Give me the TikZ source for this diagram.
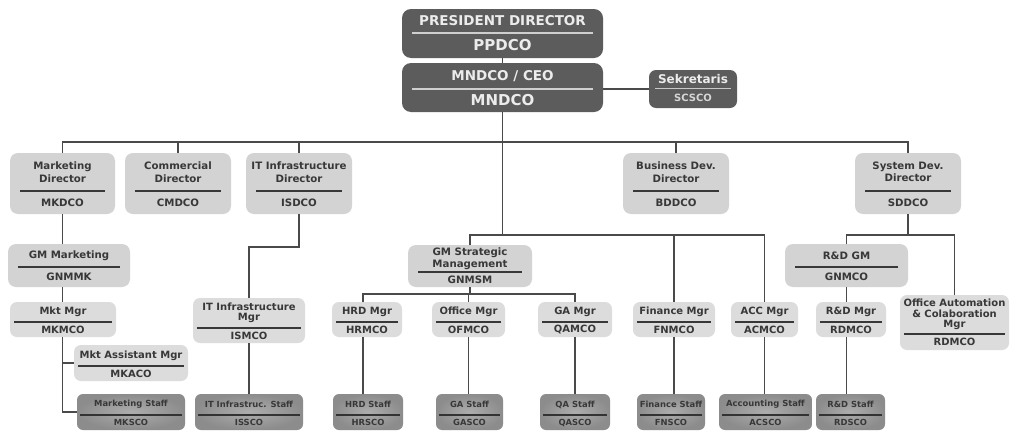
\documentclass[tikz,border=0pt]{standalone}
\usepackage{fontspec}
\setmainfont{DejaVu Sans}
\definecolor{topfill}{HTML}{5C5C5C}
\definecolor{toptext}{HTML}{ECECEC}
\definecolor{dirfill}{HTML}{D3D3D3}
\definecolor{mgrfill}{HTML}{DCDCDC}
\definecolor{staffin}{HTML}{ADADAD}
\definecolor{staffout}{HTML}{8C8C8C}
\definecolor{ink}{HTML}{383838}
\definecolor{wirec}{HTML}{4A4A4A}
\def\instopbox{10}
\def\inssecbox{6}
\def\insdirbox{10}
\def\insmgrbox{4}
\def\insstaffbox{3}
\tikzset{
  wire/.style={draw=wirec, line width=1.4pt},
  boxbase/.style={rounded corners=7pt, inner sep=0pt, outer sep=0pt},
  txt/.style={inner sep=0pt, align=center},
  topbox/.style={boxbase, fill=topfill, rounded corners=9pt},
  topboxrule/.style={draw=toptext!80!topfill, line width=1.1pt},
  topboxtop/.style={txt, text=toptext, font=\fontsize{13.5}{15}\selectfont\bfseries},
  topboxbot/.style={txt, text=toptext, font=\fontsize{15}{16}\selectfont\bfseries},
  secbox/.style={boxbase, fill=topfill, rounded corners=7pt},
  secboxrule/.style={draw=toptext!75!topfill, line width=1pt},
  secboxtop/.style={txt, text=toptext, font=\fontsize{12}{13}\selectfont\bfseries},
  secboxbot/.style={txt, text=toptext!85!topfill, font=\fontsize{10}{11}\selectfont\bfseries},
  dirbox/.style={boxbase, fill=dirfill, rounded corners=8pt},
  dirboxrule/.style={draw=ink, line width=1.1pt},
  dirboxtop/.style={txt, text=ink, font=\fontsize{10.2}{12.5}\selectfont\bfseries},
  dirboxbot/.style={txt, text=ink, font=\fontsize{10.2}{11}\selectfont\bfseries},
  mgrbox/.style={boxbase, fill=mgrfill, rounded corners=7pt},
  mgrboxrule/.style={draw=ink, line width=1.1pt},
  mgrboxtop/.style={txt, text=ink, font=\fontsize{10}{10.5}\selectfont\bfseries},
  mgrboxbot/.style={txt, text=ink, font=\fontsize{10}{11}\selectfont\bfseries},
  staffbox/.style={boxbase, inner color=staffin, outer color=staffout, rounded corners=6pt},
  staffboxrule/.style={draw=black!80, line width=1.1pt},
  staffboxtop/.style={txt, text=ink, font=\fontsize{8.4}{9}\selectfont\bfseries},
  staffboxbot/.style={txt, text=ink, font=\fontsize{8.4}{9}\selectfont\bfseries},
}
% #1 name, #2 style, #3 x1, #4 y1, #5 x2, #6 y2, #7 divider y, #8 upper text, #9 lower text
\newcommand\obox[9]{%
  \node[#2, minimum width={(#5-#3)*1pt}, minimum height={(#6-#4)*1pt}] (#1) at ({(#3+#5)/2},{(#4+#6)/2}) {};
  \draw[#2rule] ({#3+\csname ins#2\endcsname},#7) -- ({#5-\csname ins#2\endcsname},#7);
  \node[#2top] (#1-t) at ({(#3+#5)/2},{(#4+#7)/2}) {#8};
  \node[#2bot] (#1-b) at ({(#3+#5)/2},{(#7+#6)/2}) {#9};
}
\begin{document}
\begin{tikzpicture}[x=1pt,y=-1pt]
\useasboundingbox[fill=white] (0,0) rectangle (1014,431);
% top
\obox{pp}{topbox}{402}{9}{603}{58}{33}{PRESIDENT DIRECTOR}{PPDCO}
\obox{mn}{topbox}{402}{63}{603}{112}{89}{MNDCO / CEO}{MNDCO}
\obox{sek}{secbox}{649}{70}{737}{108}{88}{Sekretaris}{SCSCO}
% directors
\obox{mkd}{dirbox}{10}{153}{115}{214}{191}{Marketing\\Director}{MKDCO}
\obox{cmd}{dirbox}{125}{153}{231}{214}{191}{Commercial\\Director}{CMDCO}
\obox{isd}{dirbox}{246}{153}{352}{214}{191}{IT Infrastructure\\Director}{ISDCO}
\obox{bdd}{dirbox}{623}{153}{729}{214}{191}{Business Dev.\\Director}{BDDCO}
\obox{sdd}{dirbox}{855}{153}{961}{214}{191}{System Dev.\\Director}{SDDCO}
% general managers
\obox{gmm}{dirbox}{8}{244}{130}{287}{267}{GM Marketing}{GNMMK}
\obox{gms}{dirbox}{408}{245}{532}{287}{272}{GM Strategic\\Management}{GNMSM}
\obox{rdg}{dirbox}{785}{244}{908}{287}{267}{R\&D GM}{GNMCO}
% managers
\obox{mkm}{mgrbox}{10}{302}{116}{337}{322}{Mkt Mgr}{MKMCO}
\obox{mka}{mgrbox}{74}{345}{188}{381}{366}{Mkt Assistant Mgr}{MKACO}
\obox{ism}{mgrbox}{193}{298}{305}{343}{328}{IT Infrastructure\\Mgr}{ISMCO}
\obox{hrm}{mgrbox}{332}{302}{402}{337}{322}{HRD Mgr}{HRMCO}
\obox{ofm}{mgrbox}{432}{302}{505}{337}{322}{Office Mgr}{OFMCO}
\obox{qam}{mgrbox}{538}{302}{612}{337}{322}{GA Mgr}{QAMCO}
\obox{fnm}{mgrbox}{633}{302}{715}{337}{322}{Finance Mgr}{FNMCO}
\obox{acm}{mgrbox}{731}{302}{798}{337}{322}{ACC Mgr}{ACMCO}
\obox{rdm}{mgrbox}{816}{302}{886}{337}{322}{R\&D Mgr}{RDMCO}
\obox{oac}{mgrbox}{900}{295}{1009}{350}{334}{Office Automation\\\& Colaboration\\Mgr}{RDMCO}
% staff
\obox{mks}{staffbox}{77}{394}{185}{430}{415}{Marketing Staff}{MKSCO}
\obox{iss}{staffbox}{195}{394}{303}{430}{415}{IT Infrastruc. Staff}{ISSCO}
\obox{hrs}{staffbox}{333}{394}{403}{430}{415}{HRD Staff}{HRSCO}
\obox{gas}{staffbox}{436}{394}{503}{430}{415}{GA Staff}{GASCO}
\obox{qas}{staffbox}{540}{394}{610}{430}{415}{QA Staff}{QASCO}
\obox{fns}{staffbox}{637}{394}{705}{430}{415}{Finance Staff}{FNSCO}
\obox{acs}{staffbox}{719}{394}{812}{430}{415}{Accounting Staff}{ACSCO}
\obox{rds}{staffbox}{816}{394}{885}{430}{415}{R\&D Staff}{RDSCO}
% bus coordinates
\coordinate (busA) at (503,142);
\coordinate (busB) at (503,235);
\coordinate (isbend) at (0,247);
\coordinate (busC) at (0,294);
\coordinate (hrx) at (363,0);
% connectors
\draw[wire] (pp.south) -- (mn.north);
\draw[wire] (mn.east |- sek.west) -- (sek.west);
\draw[wire] (mn.south) -- (mn.south |- busB);
\draw[wire] (mkd.north) -- (mkd.north |- busA) -| (sdd.north);
\draw[wire] (cmd.north) -- (cmd.north |- busA);
\draw[wire] (isd.north) -- (isd.north |- busA);
\draw[wire] (bdd.north) -- (bdd.north |- busA);
\draw[wire] (gms.north) -- (gms.north |- busB) -| (acm.north);
\draw[wire] (fnm.north) -- (fnm.north |- busB);
\draw[wire] (mkd.south) -- (mkd.south |- gmm.north);
\draw[wire] (gmm.south -| mkd.south) -- (mkm.north -| mkd.south);
\draw[wire] (mkm.south -| mkd.south) |- (mks.west);
\draw[wire] (mka.west -| mkd.south) -- (mka.west);
\draw[wire] (isd.south) -- (isd.south |- isbend) -| (ism.north);
\draw[wire] (ism.south) -- (ism.south |- iss.north);
\draw[wire] (gms.south) -- (gms.south |- busC);
\draw[wire] (hrm.north -| hrx) -- (hrx |- busC) -| (qam.north);
\draw[wire] (ofm.north) -- (ofm.north |- busC);
\draw[wire] (hrm.south -| hrx) -- (hrs.north -| hrx);
\draw[wire] (ofm.south) -- (ofm.south |- gas.north);
\draw[wire] (qam.south) -- (qam.south |- qas.north);
\draw[wire] (fnm.south) -- (fnm.south |- fns.north);
\draw[wire] (acm.south) -- (acm.south |- acs.north);
\draw[wire] (sdd.south) -- (sdd.south |- busB);
\draw[wire] (rdg.north) -- (rdg.north |- busB) -| (oac.north);
\draw[wire] (rdg.south) -- (rdg.south |- rdm.north);
\draw[wire] (rdm.south -| rdg.south) -- (rds.north -| rdg.south);
\end{tikzpicture}
\end{document}
